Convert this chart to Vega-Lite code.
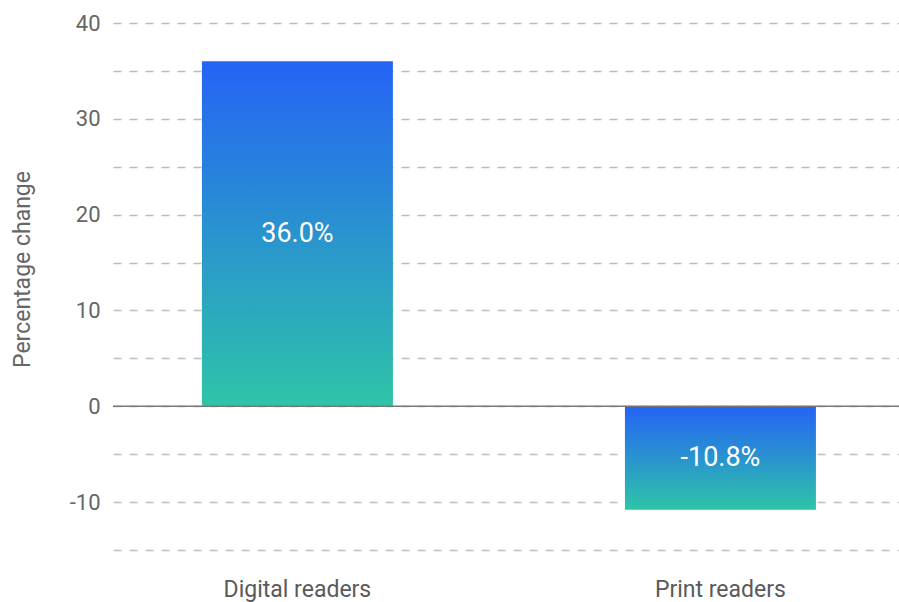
{
  "$schema": "https://vega.github.io/schema/vega-lite/v6.json",
  "width": 786,
  "height": 527,
  "autosize": {"type": "none"},
  "padding": {"left": 113, "top": 23, "right": 0, "bottom": 52},
  "background": "white",
  "config": {"view": {"stroke": null}, "font": "Roboto"},
  "data": {"values": [
    {"group": "Digital readers", "change": 36.0},
    {"group": "Print readers", "change": -10.8}
  ]},
  "layer": [
    {
      "mark": {"type": "bar", "fill": {"gradient": "linear", "x1": 0, "y1": 0, "x2": 0, "y2": 1, "stops": [{"offset": 0, "color": "#2563f5"}, {"offset": 1, "color": "#2ec4a8"}]}},
      "encoding": {
        "x": {"field": "group", "type": "nominal", "sort": null, "scale": {"paddingInner": 0.5485, "paddingOuter": 0.2033, "align": 0.517},
          "axis": {"title": null, "domain": false, "ticks": false, "labelAngle": 0, "labelFontSize": 23, "labelColor": "#5a5a5a", "labelPadding": 28}},
        "y": {"field": "change", "type": "quantitative", "scale": {"domain": [-15, 40], "nice": false, "zero": false},
          "axis": {"values": [-15, -10, -5, 0, 5, 10, 15, 20, 25, 30, 35, 40], "labelExpr": "datum.value % 10 === 0 ? '' + datum.value : ''",
            "domain": false, "ticks": false, "gridDash": [8, 8], "gridColor": "#bdbdbd", "gridWidth": 1.3,
            "labelFontSize": 22, "labelColor": "#666", "labelPadding": 13,
            "title": "Percentage change", "titleFontSize": 23, "titleFontWeight": "normal", "titleColor": "#666",
            "titleX": -91, "titleY": 246, "titleAngle": -90, "titleAlign": "center", "titleBaseline": "middle"}}
      }
    },
    {
      "data": {"values": [{"zero": 0}]},
      "mark": {"type": "rule", "color": "#777", "strokeWidth": 1.5},
      "encoding": {"y": {"field": "zero", "type": "quantitative"}}
    },
    {
      "transform": [
        {"calculate": "datum.change / 2", "as": "mid"},
        {"calculate": "replace(format(datum.change, '.1f'), '\u2212', '-') + '%'", "as": "label"}
      ],
      "mark": {"type": "text", "color": "white", "fontSize": 27, "baseline": "middle", "align": "center"},
      "encoding": {
        "x": {"field": "group", "type": "nominal", "sort": null},
        "y": {"field": "mid", "type": "quantitative"},
        "text": {"field": "label"}
      }
    }
  ]
}
